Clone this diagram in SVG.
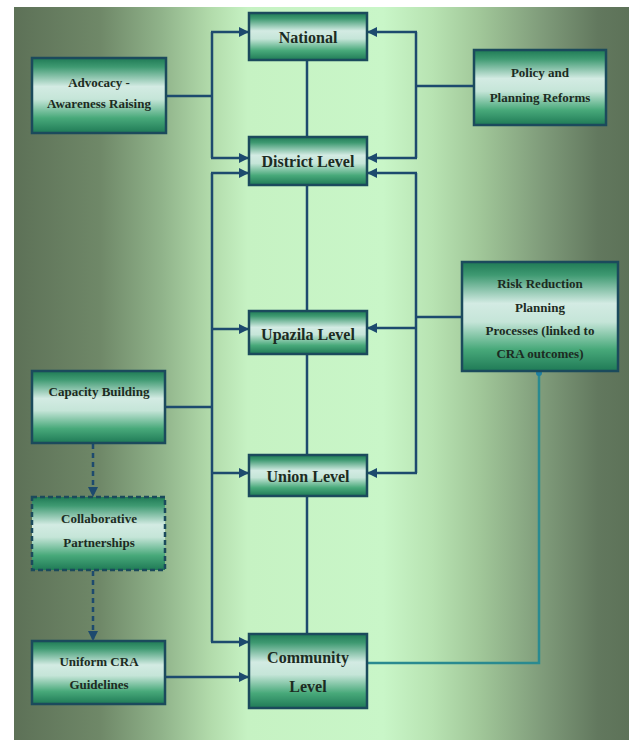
<svg xmlns="http://www.w3.org/2000/svg" width="633" height="740" viewBox="0 0 633 740">
<defs>
<linearGradient id="bg" x1="0" y1="0" x2="1" y2="0">
<stop offset="0" stop-color="#5d7157"/>
<stop offset="0.14" stop-color="#6f8868"/>
<stop offset="0.24" stop-color="#90b38a"/>
<stop offset="0.32" stop-color="#b2dbab"/>
<stop offset="0.38" stop-color="#c6f2c3"/>
<stop offset="0.6" stop-color="#c9f6c8"/>
<stop offset="0.68" stop-color="#b8e3b2"/>
<stop offset="0.76" stop-color="#a0c698"/>
<stop offset="0.86" stop-color="#7f9b7a"/>
<stop offset="0.95" stop-color="#62785e"/>
<stop offset="1" stop-color="#5d7258"/>
</linearGradient>
<linearGradient id="nf" x1="0" y1="0" x2="0" y2="1">
<stop offset="0" stop-color="#1f7a55"/>
<stop offset="0.12" stop-color="#3f9a72"/>
<stop offset="0.38" stop-color="#d3ebe3"/>
<stop offset="0.55" stop-color="#c5e5d8"/>
<stop offset="0.8" stop-color="#48a97a"/>
<stop offset="1" stop-color="#1f7a56"/>
</linearGradient>
<marker id="ah" viewBox="0 0 10 10" refX="10" refY="5" markerWidth="4" markerHeight="4" orient="auto" markerUnits="strokeWidth">
<path d="M0,0 L10,5 L0,10 z" fill="#1d4a6e"/>
</marker>
</defs>
<style>
.node rect{fill:url(#nf);stroke:#1b4a5c;stroke-width:2.5}
.dash rect{stroke-dasharray:5 3}
text{font-family:"Liberation Serif","Times New Roman",serif;font-weight:bold;fill:#1c2b22;text-anchor:middle}
.lv{font-size:16px}
.sd{font-size:13px}
.c line,.c polyline{stroke:#1d4a6e;stroke-width:2.5;fill:none}
.c .ar{marker-end:url(#ah)}
.c .dsh{stroke-dasharray:5 4}
.c .teal{stroke:#2a8a90}
</style>
<rect x="14" y="7" width="615" height="733" fill="url(#bg)"/>

<g id="connectors" class="c">
<line x1="307" y1="60" x2="307" y2="137"/>
<line x1="307" y1="185" x2="307" y2="311"/>
<line x1="307" y1="354" x2="307" y2="455"/>
<line x1="307" y1="496" x2="307" y2="634"/>
<line x1="166" y1="96" x2="212" y2="96"/>
<line x1="212" y1="32" x2="212" y2="158"/>
<line class="ar" x1="211" y1="32" x2="249" y2="32"/>
<line class="ar" x1="211" y1="158" x2="249" y2="158"/>
<line x1="212" y1="173" x2="212" y2="642"/>
<line x1="165" y1="407" x2="212" y2="407"/>
<line class="ar" x1="211" y1="173" x2="249" y2="173"/>
<line class="ar" x1="211" y1="329" x2="249" y2="329"/>
<line class="ar" x1="211" y1="473" x2="249" y2="473"/>
<line class="ar" x1="211" y1="642" x2="249" y2="642"/>
<line class="ar" x1="165" y1="677" x2="249" y2="677"/>
<line x1="416" y1="32" x2="416" y2="158"/>
<line x1="416" y1="86" x2="474" y2="86"/>
<line class="ar" x1="417" y1="32" x2="367" y2="32"/>
<line class="ar" x1="417" y1="158" x2="367" y2="158"/>
<line x1="416" y1="173" x2="416" y2="473"/>
<line x1="416" y1="317" x2="462" y2="317"/>
<line class="ar" x1="417" y1="173" x2="367" y2="173"/>
<line class="ar" x1="417" y1="328" x2="367" y2="328"/>
<line class="ar" x1="417" y1="473" x2="367" y2="473"/>
<line class="ar dsh" x1="93" y1="444" x2="93" y2="497"/>
<line class="ar dsh" x1="93" y1="571" x2="93" y2="641"/>
<polyline class="teal" points="367,663 539,663 539,373"/>
<circle cx="539" cy="373" r="3" fill="#1f7fa0"/>
</g>

<g id="national" class="node"><rect x="249" y="13" width="118" height="47"/><text class="lv" x="308" y="43">National</text></g>
<g id="district" class="node"><rect x="249" y="137" width="118" height="48"/><text class="lv" x="308" y="167">District Level</text></g>
<g id="upazila" class="node"><rect x="249" y="311" width="118" height="43"/><text class="lv" x="308" y="340">Upazila Level</text></g>
<g id="union" class="node"><rect x="249" y="455" width="118" height="41"/><text class="lv" x="308" y="482">Union Level</text></g>
<g id="community" class="node"><rect x="249" y="634" width="118" height="74"/><text class="lv" x="308" y="663">Community</text><text class="lv" x="308" y="692">Level</text></g>
<g id="advocacy" class="node"><rect x="32" y="58" width="134" height="75"/><text class="sd" x="99" y="87">Advocacy -</text><text class="sd" x="99" y="108">Awareness Raising</text></g>
<g id="policy" class="node"><rect x="474" y="50" width="132" height="75"/><text class="sd" x="540" y="77">Policy and</text><text class="sd" x="540" y="102">Planning Reforms</text></g>
<g id="risk" class="node"><rect x="462" y="262" width="156" height="109"/><text class="sd" x="540" y="288">Risk Reduction</text><text class="sd" x="540" y="312">Planning</text><text class="sd" x="540" y="335">Processes (linked to</text><text class="sd" x="540" y="358">CRA outcomes)</text></g>
<g id="capacity" class="node"><rect x="32" y="371" width="133" height="72"/><text class="sd" x="99" y="396">Capacity Building</text></g>
<g id="collab" class="node dash"><rect x="32" y="497" width="133" height="73"/><text class="sd" x="99" y="523">Collaborative</text><text class="sd" x="99" y="547">Partnerships</text></g>
<g id="uniform" class="node"><rect x="32" y="641" width="133" height="63"/><text class="sd" x="99" y="666">Uniform CRA</text><text class="sd" x="99" y="689">Guidelines</text></g>
</svg>
